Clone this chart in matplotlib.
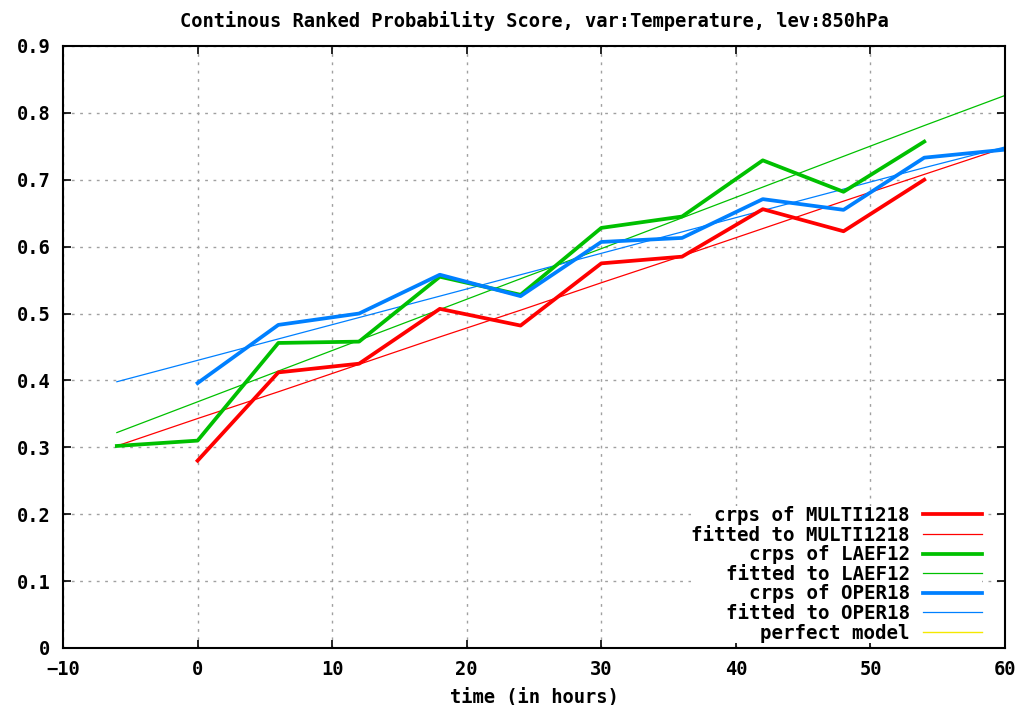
import numpy as np
import matplotlib.pyplot as plt
from matplotlib.ticker import FuncFormatter

# forecast hours
hours = [-6, 0, 6, 12, 18, 24, 30, 36, 42, 48, 54, 60]

# crps curves
multi_h = [0, 6, 12, 18, 24, 30, 36, 42, 48, 54]
multi_crps = [0.280, 0.412, 0.425, 0.507, 0.482, 0.575, 0.585, 0.656, 0.623, 0.700]
laef_h = [-6, 0, 6, 12, 18, 24, 30, 36, 42, 48, 54]
laef_crps = [0.302, 0.310, 0.456, 0.458, 0.555, 0.528, 0.628, 0.645, 0.729, 0.682, 0.757]
oper_h = [0, 6, 12, 18, 24, 30, 36, 42, 48, 54, 60]
oper_crps = [0.396, 0.483, 0.500, 0.558, 0.526, 0.607, 0.613, 0.671, 0.655, 0.733, 0.745]

# fitted curves, sampled every 6 h
multi_fit = [0.302, 0.343, 0.383, 0.424, 0.465, 0.505, 0.546, 0.586, 0.627, 0.668, 0.708, 0.748]
laef_fit = [0.322, 0.368, 0.414, 0.460, 0.506, 0.552, 0.597, 0.643, 0.689, 0.735, 0.781, 0.826]
oper_fit = [0.398, 0.430, 0.462, 0.494, 0.526, 0.558, 0.590, 0.622, 0.654, 0.686, 0.718, 0.749]
perfect = [0.0] * len(hours)

RED = '#ff0000'
GREEN = '#00c000'
BLUE = '#0080ff'
YELLOW = '#f5e800'

mono = 'DejaVu Sans Mono'

fig = plt.figure(figsize=(10.2, 7.05), dpi=100)
ax = fig.add_axes([0.0618, 0.0809, 0.9235, 0.8539])

ax.plot(hours, perfect, color=YELLOW, lw=1.0, label='perfect model', zorder=1)
ax.plot(multi_h, multi_crps, color=RED, lw=2.7, label='crps of MULTI1218', zorder=3)
ax.plot(hours, multi_fit, color=RED, lw=0.9, label='fitted to MULTI1218', zorder=2)
ax.plot(laef_h, laef_crps, color=GREEN, lw=2.7, label='crps of LAEF12', zorder=3)
ax.plot(hours, laef_fit, color=GREEN, lw=0.9, label='fitted to LAEF12', zorder=2)
ax.plot(oper_h, oper_crps, color=BLUE, lw=2.7, label='crps of OPER18', zorder=3)
ax.plot(hours, oper_fit, color=BLUE, lw=0.9, label='fitted to OPER18', zorder=2)

ax.set_xlim(-10, 60)
ax.set_ylim(0, 0.9)
ax.set_xticks(np.arange(-10, 61, 10))
ax.set_yticks(np.arange(0, 0.91, 0.1))
ax.yaxis.set_major_formatter(FuncFormatter(lambda v, p: '0' if abs(v) < 1e-9 else f'{v:.1f}'))

ax.grid(True, color='#a0a0a0', linestyle=(0, (2, 4)), linewidth=1.0)
ax.set_axisbelow(True)
ax.tick_params(direction='in', length=6, width=1.2, top=True, right=True,
               labelsize=13.5, pad=9)
for lab in ax.get_xticklabels() + ax.get_yticklabels():
    lab.set_family(mono)
    lab.set_weight('bold')
for sp in ax.spines.values():
    sp.set_linewidth(1.5)
    sp.set_zorder(5)

ax.set_xlabel('time (in hours)', family=mono, weight='bold', fontsize=13.5, labelpad=6)
ax.set_title('Continous Ranked Probability Score, var:Temperature, lev:850hPa',
             family=mono, weight='bold', fontsize=13.5, pad=14)

handles, labels = ax.get_legend_handles_labels()
order = [1, 2, 3, 4, 5, 6, 0]
leg = ax.legend([handles[i] for i in order], [labels[i] for i in order],
                loc='lower right', bbox_to_anchor=(0.976, 0.009), frameon=True,
                facecolor='white', edgecolor='none', framealpha=1.0, fancybox=False,
                markerfirst=False, handlelength=3.1, handletextpad=0.7,
                labelspacing=0.03, borderpad=0.0, borderaxespad=0.0,
                prop={'family': mono, 'weight': 'bold', 'size': 13.8})

fig.savefig('out.png', dpi=100)
